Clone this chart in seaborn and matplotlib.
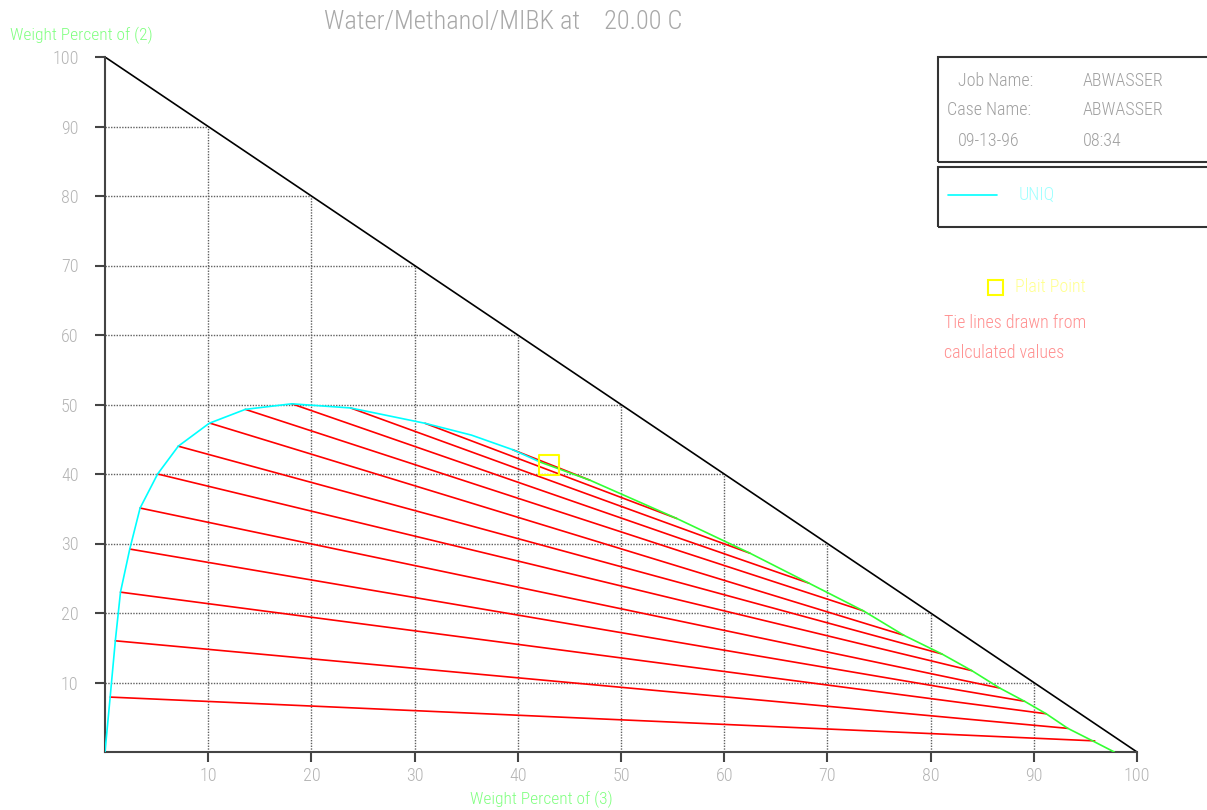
import matplotlib
matplotlib.use("Agg")
import matplotlib.pyplot as plt
from matplotlib.patches import Rectangle
from matplotlib import font_manager
import seaborn as sns
import pandas as pd

# ---------------- data ----------------
title = "Water/Methanol/MIBK at    20.00 C"
ylabel = "Weight Percent of (2)"
xlabel = "Weight Percent of (3)"
ticks = [10, 20, 30, 40, 50, 60, 70, 80, 90, 100]

# binodal curve, UNIQ (cyan part, raffinate side)
uniq_x = [0.0, 0.5, 1.0, 1.5, 2.4, 3.4, 5.1, 7.1, 10.1, 13.6, 18.1, 23.8, 31.0, 35.5, 39.5, 42.2]
uniq_y = [0.0, 7.9, 16.0, 23.0, 29.2, 35.1, 40.0, 44.0, 47.3, 49.3, 50.1, 49.5, 47.3, 45.6, 43.5, 41.7]
# binodal curve, extract side (green)
ext_x = [42.2, 47.0, 55.4, 62.5, 68.2, 73.5, 77.4, 81.1, 84.0, 86.7, 89.1, 91.2, 93.3, 95.7, 97.8]
ext_y = [41.7, 39.1, 33.6, 28.6, 24.3, 20.3, 16.8, 14.1, 11.7, 9.2, 7.3, 5.5, 3.4, 1.6, 0.0]

# tie lines (left end on cyan, right end on green)
tie_x1 = [0.5, 1.0, 1.5, 2.4, 3.4, 5.1, 7.1, 10.2, 13.6, 18.1, 23.8, 31.0, 39.5]
tie_y1 = [7.9, 16.0, 23.0, 29.2, 35.1, 40.0, 44.0, 47.3, 49.3, 50.1, 49.5, 47.3, 43.5]
tie_x2 = [95.9, 93.3, 91.2, 89.1, 86.7, 84.0, 81.1, 77.4, 73.5, 68.2, 62.5, 55.4, 47.0]
tie_y2 = [1.6, 3.4, 5.5, 7.3, 9.2, 11.7, 14.1, 16.8, 20.3, 24.3, 28.6, 33.6, 39.1]

plait_x = [43.0]
plait_y = [41.3]

info_rows = [("Job Name:", "ABWASSER"), ("Case Name:", "ABWASSER"), ("09-13-96", "08:34")]
legend_label = "UNIQ"
note_lines = ["Tie lines drawn from", "calculated values"]

# ---------------- style ----------------
sns.set_theme(style="white")
names = {f.name for f in font_manager.fontManager.ttflist}
cands = ["Roboto Condensed", "Oswald", "Pathway Gothic One", "PT Sans Narrow",
         "Archivo Narrow", "Liberation Sans Narrow"]
chosen = [c for c in cands if c in names][:1]
plt.rcParams["font.family"] = chosen + ["DejaVu Sans"]
plt.rcParams["font.weight"] = "light"

W, H = 1207, 810
fig = plt.figure(figsize=(W / 100, H / 100), dpi=100)
fig.patch.set_facecolor("white")
ax = fig.add_axes([105 / W, (H - 752) / H, 1032 / W, 695 / H])
ax.set_facecolor("white")
ax.set_xlim(0, 100)
ax.set_ylim(0, 100)

for s in ["top", "right"]:
    ax.spines[s].set_visible(False)
for s in ["left", "bottom"]:
    ax.spines[s].set_color("#444444")
    ax.spines[s].set_linewidth(1.5)

ax.set_xticks(ticks)
ax.set_yticks(ticks)
ax.set_xticklabels([str(t) for t in ticks])
ax.set_yticklabels([str(t) for t in ticks])
ax.tick_params(axis="both", direction="out", length=7, width=1.5, color="#444444",
               labelcolor="#b4b4b4", labelsize=13, bottom=True, left=True)
ax.tick_params(axis="y", pad=12)
ax.tick_params(axis="x", pad=4)

# triangular grid
for t in ticks[:-1]:
    ax.plot([t, t], [0, 100 - t], color="#606060", lw=1, ls=(0, (1, 1)), zorder=1)
    ax.plot([0, 100 - t], [t, t], color="#606060", lw=1, ls=(0, (1, 1)), zorder=1)
# hypotenuse
ax.plot([0, 100], [100, 0], color="black", lw=1.2, zorder=2)

# tie lines
ties = pd.DataFrame({
    "x": tie_x1 + tie_x2,
    "y": tie_y1 + tie_y2,
    "tie": list(range(len(tie_x1))) * 2,
})
sns.lineplot(data=ties, x="x", y="y", units="tie", estimator=None, sort=False,
             color="#ff0000", lw=1.2, ax=ax, zorder=3, legend=False)

sns.lineplot(x=uniq_x, y=uniq_y, sort=False, estimator=None, color="#00ffff", lw=1.2, ax=ax, zorder=4)
sns.lineplot(x=ext_x, y=ext_y, sort=False, estimator=None, color="#33ff33", lw=1.2, ax=ax, zorder=4)

sns.scatterplot(x=plait_x, y=plait_y, marker="s", s=200, facecolor="none",
                edgecolor="#ffff00", linewidth=1.5, ax=ax, zorder=5)

ax.set_xlabel("")
ax.set_ylabel("")

# titles & axis labels
fig.text(503 / W, 1 - 22 / H, title, ha="center", va="center", color="#a8a8a8", fontsize=19)
fig.text(10 / W, 1 - 35 / H, ylabel, ha="left", va="center", color="#80ff80", fontsize=12.5)
fig.text(541 / W, 1 - 799 / H, xlabel, ha="center", va="center", color="#80ff80", fontsize=12.5)

# info box
def frect(x0, y0, x1, y1):
    fig.patches.append(Rectangle((x0 / W, 1 - y1 / H), (x1 - x0) / W, (y1 - y0) / H,
                                 transform=fig.transFigure, fill=False,
                                 edgecolor="#333333", lw=1.5))

frect(938, 57, 1215, 162)
frect(938, 167, 1215, 227)
rows_y = [81, 110, 141]
left_x = [958, 947, 958]
for (a, b), yy, xx in zip(info_rows, rows_y, left_x):
    fig.text(xx / W, 1 - yy / H, a, ha="left", va="center", color="#a0a0a0", fontsize=13)
    fig.text(1083 / W, 1 - yy / H, b, ha="left", va="center", color="#a0a0a0", fontsize=13)

fig.add_artist(plt.Line2D([948 / W, 997 / W], [1 - 195 / H, 1 - 195 / H],
                          transform=fig.transFigure, color="#00ffff", lw=1.2))
fig.text(1019 / W, 1 - 195 / H, legend_label, ha="left", va="center", color="#a0ffff", fontsize=13)

fig.patches.append(Rectangle((988 / W, 1 - 295 / H), 15 / W, 15 / H, transform=fig.transFigure,
                             fill=False, edgecolor="#ffff00", lw=1.5))
fig.text(1015 / W, 1 - 287 / H, "Plait Point", ha="left", va="center", color="#ffff90", fontsize=13)
fig.text(944 / W, 1 - 323 / H, note_lines[0], ha="left", va="center", color="#ff9090", fontsize=13)
fig.text(944 / W, 1 - 353 / H, note_lines[1], ha="left", va="center", color="#ff9090", fontsize=13)

fig.savefig("out.png", dpi=100, facecolor="white")
